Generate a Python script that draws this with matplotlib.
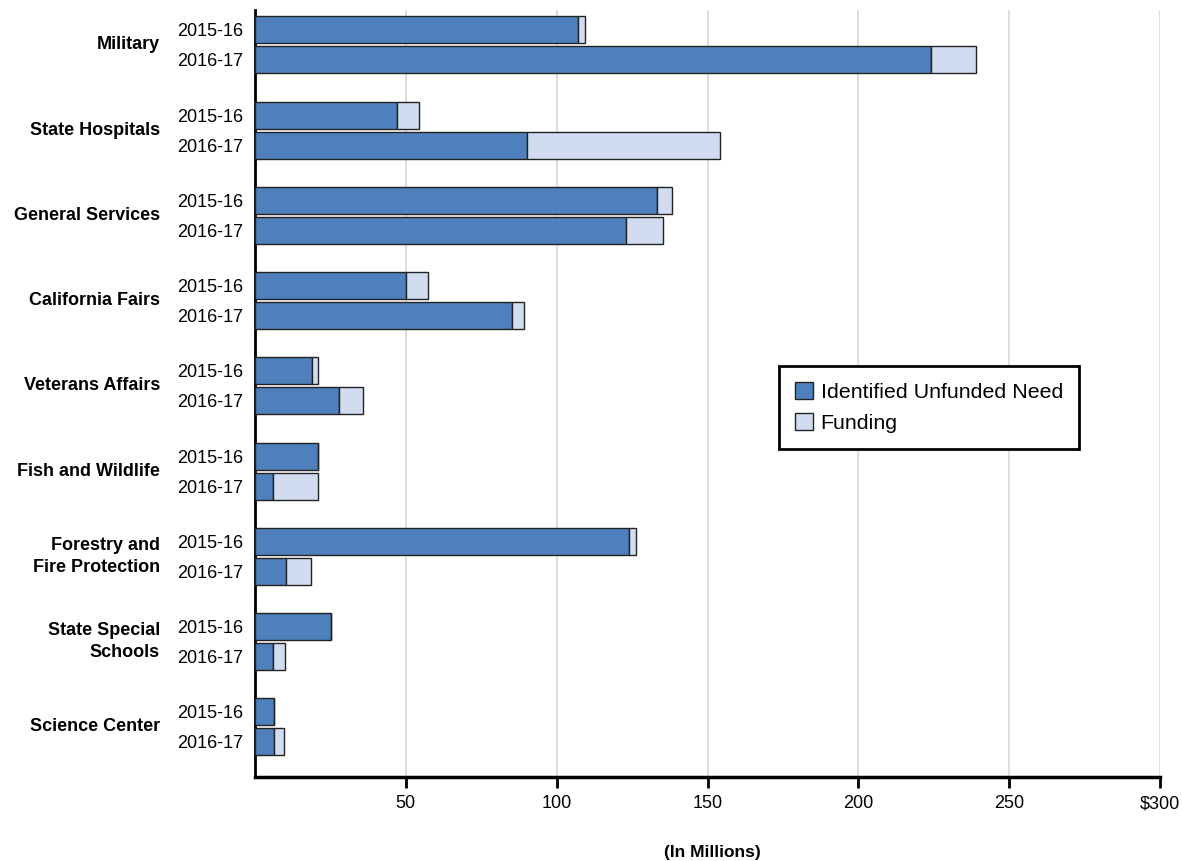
import numpy as np
import matplotlib
matplotlib.use("Agg")
import matplotlib.pyplot as plt
import matplotlib.transforms as mtransforms
from matplotlib.patches import Patch

#%% Data (in millions)

categories = ["Military", "State Hospitals", "General Services", "California Fairs",
              "Veterans Affairs", "Fish and Wildlife", "Forestry and\nFire Protection",
              "State Special\nSchools", "Science Center"]
years = ["2015-16", "2016-17"]

# identified unfunded need, by category
need_1516 = [107.1, 47.0, 133.3, 50.0, 18.9, 21.0, 124.1, 25.1, 6.2]
need_1617 = [224.0, 90.2, 123.1, 85.1, 27.7, 5.9, 10.2, 5.9, 6.4]

# funding, stacked after need
fund_1516 = [2.2, 7.2, 5.0, 7.2, 2.1, 0.0, 2.2, 0.0, 0.0]
fund_1617 = [15.1, 64.1, 12.1, 4.0, 8.0, 15.1, 8.2, 4.2, 3.1]

xticks = [50, 100, 150, 200, 250, 300]
xticklabels = ["50", "100", "150", "200", "250", "$300"]

#%% Style

plt.rcParams['font.family'] = ['Liberation Sans', 'DejaVu Sans']
dark = "#4E80BD"
light = "#D1DCF0"
edge = "#222222"

#%% Plot

fig = plt.figure(figsize=(11.82, 8.61), dpi=100)
ax = fig.add_axes([255/1182, 1 - 777/861, 905/1182, 767/861])

grp = np.arange(len(categories))
off = 0.176
h = 0.317
pos_1516 = grp - off
pos_1617 = grp + off

ax.barh(pos_1516, need_1516, height=h, color=dark, edgecolor=edge, linewidth=1, zorder=3)
ax.barh(pos_1516, fund_1516, left=need_1516, height=h, color=light, edgecolor=edge,
        linewidth=1, zorder=3)
ax.barh(pos_1617, need_1617, height=h, color=dark, edgecolor=edge, linewidth=1, zorder=3)
ax.barh(pos_1617, fund_1617, left=need_1617, height=h, color=light, edgecolor=edge,
        linewidth=1, zorder=3)

ax.set_xlim(0, 300)
ax.set_ylim(8.59, -0.41)

# year labels as y ticks
ypos = np.concatenate([pos_1516, pos_1617])
ylabs = [years[0]] * len(categories) + [years[1]] * len(categories)
ax.set_yticks(ypos)
ax.set_yticklabels(ylabs, fontsize=13)
ax.tick_params(axis='y', length=0, pad=8.5)

# category labels
trans = mtransforms.blended_transform_factory(ax.transAxes, ax.transData)
for i, cat in enumerate(categories):
    ax.text(-95/905, grp[i], cat, transform=trans, ha='right', va='center',
            fontsize=13, fontweight='bold', linespacing=1.35)

ax.set_xticks(xticks)
ax.set_xticklabels(xticklabels, fontsize=13)
ax.tick_params(axis='x', length=8, width=2, pad=5)

ax.grid(axis='x', color="#D9D9D9", linewidth=1.2, zorder=0)
ax.set_axisbelow(True)
for s in ["top", "right"]:
    ax.spines[s].set_visible(False)
ax.spines["left"].set_linewidth(2)
ax.spines["bottom"].set_linewidth(2.5)

fig.text(712/1182, 1 - 852/861, "(In Millions)", ha='center', va='center',
         fontsize=12.5, fontweight='bold')

handles = [Patch(facecolor=dark, edgecolor=edge, label="Identified Unfunded Need"),
           Patch(facecolor=light, edgecolor=edge, label="Funding")]
leg = ax.legend(handles=handles, loc='upper left',
                bbox_to_anchor=((779-255)/905, (777-366)/767),
                fontsize=15.4, frameon=True, fancybox=False, edgecolor='black',
                framealpha=1, borderpad=0.75, handlelength=0.85, handleheight=0.85,
                handletextpad=0.35, labelspacing=0.5, borderaxespad=0)
leg.get_frame().set_linewidth(2)

fig.savefig('out.png', dpi=100)
